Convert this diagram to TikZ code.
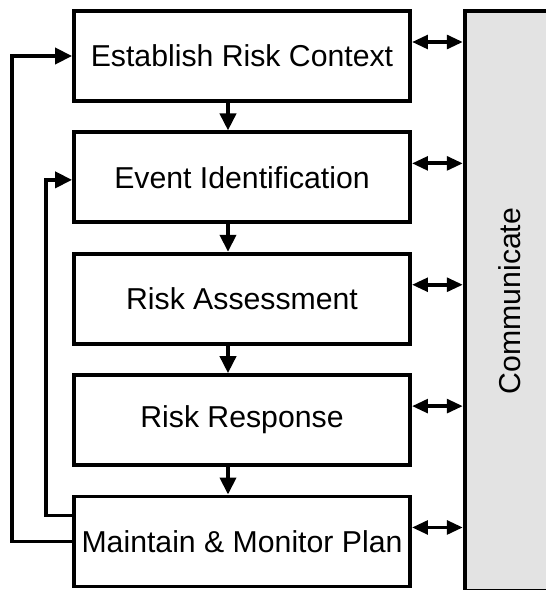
\documentclass[tikz,border=0pt]{standalone}
\usepackage{fontspec}
\setmainfont{Liberation Sans}
\usetikzlibrary{arrows.meta,positioning}

\definecolor{commgray}{HTML}{E3E3E3}

\begin{document}
\begin{tikzpicture}[
    node distance=0.55cm,
    box/.style={draw, line width=2.2pt, align=center, minimum width=6.72cm, minimum height=1.8cm, font=\fontsize{17.2}{20}\selectfont},
    link/.style={-{Triangle[length=0.34cm, width=0.32cm]}, line width=2.2pt},
    both/.style={{Triangle[length=0.32cm, width=0.27cm]}-{Triangle[length=0.32cm, width=0.27cm]}, line width=2.2pt}
]
\useasboundingbox (-4.84,1.12) rectangle (6.08,-10.68);
\node[box] (ctx) {Establish Risk Context};
\node[box, below=of ctx] (event) {Event Identification};
\node[box, below=of event] (assess) {Risk Assessment};
\node[box, below=of assess] (response) {Risk Response};
\node[box, below=of response] (monitor) {Maintain \& Monitor Plan};
\node[box, fill=commgray, minimum width=1.8cm, minimum height=11.6cm, anchor=north west] (comm)
    at ([xshift=1.02cm]ctx.north east) {\rotatebox{90}{Communicate}};
% steps down the chain
\draw[link] ([xshift=-0.28cm]ctx.south) -- ([xshift=-0.28cm]event.north);
\draw[link] ([xshift=-0.28cm]event.south) -- ([xshift=-0.28cm]assess.north);
\draw[link] ([xshift=-0.28cm]assess.south) -- ([xshift=-0.28cm]response.north);
\draw[link] ([xshift=-0.28cm]response.south) -- ([xshift=-0.28cm]monitor.north);
% feedback loops on the left
\draw[link] (monitor.west) -- ++(-1.2,0) |- (ctx.west);
\draw[link] ([yshift=0.52cm]monitor.west) -- ++(-0.52,0) |- ([yshift=-0.05cm]event.west);
% links to communicate
\draw[both] ([yshift=0.28cm]ctx.east) -- ([yshift=0.28cm]ctx.east -| comm.west);
\draw[both] ([yshift=0.28cm]event.east) -- ([yshift=0.28cm]event.east -| comm.west);
\draw[both] ([yshift=0.28cm]assess.east) -- ([yshift=0.28cm]assess.east -| comm.west);
\draw[both] ([yshift=0.28cm]response.east) -- ([yshift=0.28cm]response.east -| comm.west);
\draw[both] ([yshift=0.28cm]monitor.east) -- ([yshift=0.28cm]monitor.east -| comm.west);
\end{tikzpicture}
\end{document}
